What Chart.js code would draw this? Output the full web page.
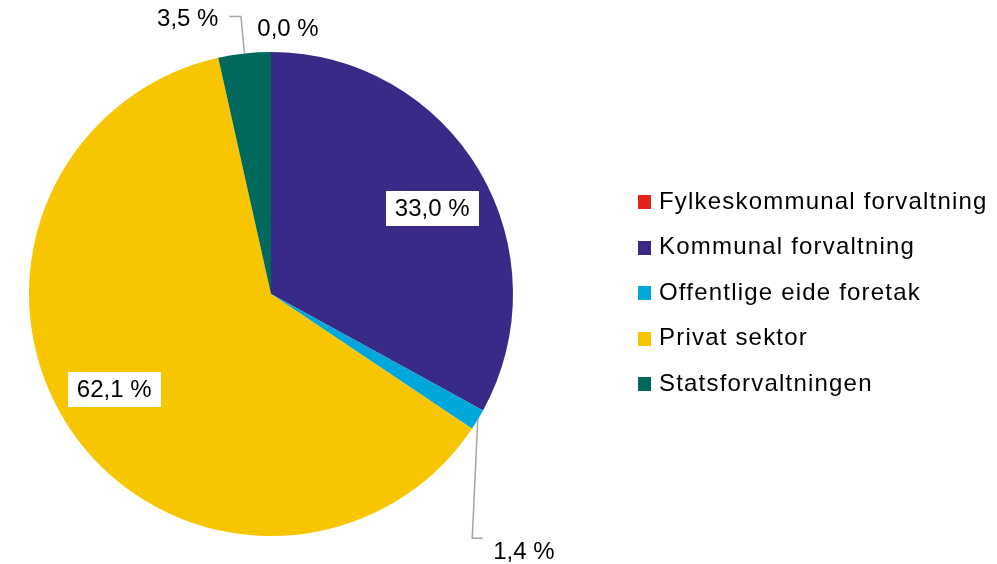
<!DOCTYPE html>
<html>
<head>
<meta charset="utf-8">
<script src="https://cdn.jsdelivr.net/npm/chart.js@4/dist/chart.umd.min.js"></script>
<style>
  html, body { margin: 0; padding: 0; background: #fff; }
  #wrap { width: 997px; height: 564px; }
</style>
</head>
<body>
<div id="wrap"><canvas id="pieChart" width="997" height="564"></canvas></div>
<script>
// data (share of employees, %)
const categories = [
    'Fylkeskommunal forvaltning',
    'Kommunal forvaltning',
    'Offentlige eide foretak',
    'Privat sektor',
    'Statsforvaltningen'
];
const shares = [0.0, 33.0, 1.4, 62.1, 3.5];
const colors = ['#E2231A', '#372B87', '#00A7DB', '#F8C600', '#00695B'];

const FONT = '"Liberation Sans", Arial, sans-serif';

function fmt(v) {
    return v.toFixed(1).replace('.', ',') + ' %';
}

// label placement per slice (inside boxes / outside with leader line)
const labelCfg = [
    { mode: 'outside', text: [17, -23], align: 'center' },
    { mode: 'inside', r: 0.75, shift: [5, 7] },
    { mode: 'outside', line: [[-5.5, 118.5], [5, 118.5]], text: [15.5, 133], align: 'left' },
    { mode: 'inside', r: 0.76, shift: [-5, -8] },
    { mode: 'outside', line: [[-3.5, -37], [-15, -37]], text: [-26, -34], align: 'right' }
];

const labelPlugin = {
    id: 'sliceLabels',
    afterDatasetsDraw(chart) {
        const ctx = chart.ctx;
        const arcs = chart.getDatasetMeta(0).data;
        ctx.save();
        ctx.font = '24px ' + FONT;
        ctx.textBaseline = 'middle';
        arcs.forEach((arc, i) => {
            const cfg = labelCfg[i];
            const p = arc.getProps(['x', 'y', 'startAngle', 'endAngle', 'outerRadius'], true);
            const mid = (p.startAngle + p.endAngle) / 2;
            const txt = fmt(chart.data.datasets[0].data[i]);
            if (cfg.mode === 'inside') {
                const cx = p.x + Math.cos(mid) * p.outerRadius * cfg.r + cfg.shift[0];
                const cy = p.y + Math.sin(mid) * p.outerRadius * cfg.r + cfg.shift[1];
                const w = ctx.measureText(txt).width + 18;
                const h = 35;
                ctx.fillStyle = '#fff';
                ctx.fillRect(Math.round(cx - w / 2), Math.round(cy - h / 2), Math.round(w), h);
                ctx.fillStyle = '#000';
                ctx.textAlign = 'center';
                ctx.fillText(txt, cx, cy + 1);
            } else {
                const ex = p.x + Math.cos(mid) * p.outerRadius;
                const ey = p.y + Math.sin(mid) * p.outerRadius;
                if (cfg.line) {
                    ctx.strokeStyle = '#A6A6A6';
                    ctx.lineWidth = 1.5;
                    ctx.beginPath();
                    ctx.moveTo(ex, ey);
                    cfg.line.forEach(pt => ctx.lineTo(ex + pt[0], ey + pt[1]));
                    ctx.stroke();
                }
                ctx.fillStyle = '#000';
                ctx.textAlign = cfg.align;
                ctx.fillText(txt, ex + cfg.text[0], ey + cfg.text[1]);
            }
        });
        ctx.restore();
    },
    afterDraw(chart) {
        // legend on the right, drawn by hand
        const ctx = chart.ctx;
        ctx.save();
        ctx.font = '24px ' + FONT;
        ctx.letterSpacing = '1.2px';
        ctx.textBaseline = 'middle';
        ctx.textAlign = 'left';
        chart.data.labels.forEach((lab, i) => {
            const y = 202 + i * 45.5;
            ctx.fillStyle = chart.data.datasets[0].backgroundColor[i];
            ctx.fillRect(638, Math.round(y - 7), 13, 14);
            ctx.fillStyle = '#000';
            ctx.fillText(lab, 659, y);
        });
        ctx.restore();
    }
};

new Chart(document.getElementById('pieChart').getContext('2d'), {
    type: 'pie',
    data: {
        labels: categories,
        datasets: [{
            data: shares,
            backgroundColor: colors,
            borderWidth: 0
        }]
    },
    options: {
        responsive: false,
        animation: false,
        layout: {
            padding: { top: 52, bottom: 28, left: 29, right: 484 }
        },
        plugins: {
            legend: { display: false },
            tooltip: { enabled: false }
        }
    },
    plugins: [labelPlugin]
});
</script>
</body>
</html>
